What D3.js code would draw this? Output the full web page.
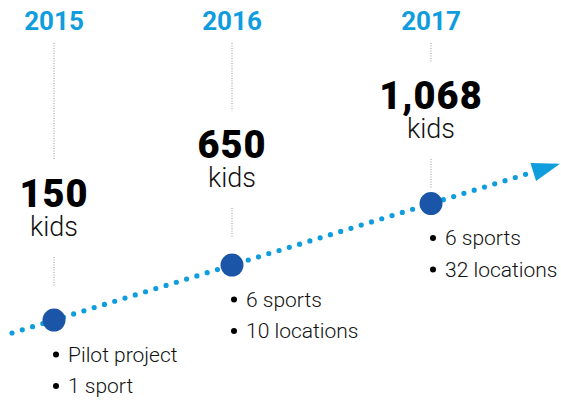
<!DOCTYPE html>
<html><head><meta charset="utf-8">
<script src="https://cdn.jsdelivr.net/npm/d3@7"></script>
<style>
html,body{margin:0;padding:0;background:#fff;}
svg{display:block;}
</style></head>
<body>
<script>
const years = [2015, 2016, 2017];
const kids = [150, 650, 1068];
const kidsLabels = ["150", "650", "1,068"];
const unitLabel = "kids";
const bullets = [["Pilot project", "1 sport"], ["6 sports", "10 locations"], ["6 sports", "32 locations"]];

const W = 561, H = 403;
const lightBlue = "#0f9ddd", darkBlue = "#1a55a7";
const svg = d3.select("body").append("svg").attr("width", W).attr("height", H);

// x position of each year along the timeline
const x = d3.scaleLinear().domain(years).range([54, 232, 431]);
// timeline: y as a function of x
const lineY = d3.scaleLinear().domain([12, 559]).range([333, 164]);
// annotation block baseline per year
const labelY = d3.scaleLinear().domain([2015, 2017]).range([207, 109]);

const font = "Roboto, 'Liberation Sans', sans-serif";

// dotted timeline
const x0 = 12, x1 = 535;
svg.append("line")
  .attr("x1", x0).attr("y1", lineY(x0))
  .attr("x2", x1).attr("y2", lineY(x1))
  .attr("stroke", lightBlue).attr("stroke-width", 5.2)
  .attr("stroke-linecap", "round").attr("stroke-dasharray", "0 10.75");

// arrow head
const tx = 560, ty = lineY(560);
const dx = 547, dy = -169, len = Math.hypot(dx, dy);
const ux = dx / len, uy = dy / len, L = 28, hw = 9.5;
const bx = tx - L * ux, by = ty - L * uy;
svg.append("path")
  .attr("d", d3.line()([[tx, ty], [bx - hw * uy, by + hw * ux], [bx + hw * uy, by - hw * ux]]) + "Z")
  .attr("fill", lightBlue);

const g = svg.selectAll("g.yr").data(years).join("g").attr("class", "yr");

// year labels
g.append("text")
  .attr("x", d => x(d)).attr("y", 30)
  .attr("text-anchor", "middle")
  .attr("font-family", font).attr("font-weight", 700).attr("font-size", 26)
  .attr("fill", lightBlue)
  .text(d => d);

// upper dotted connector
g.append("line")
  .attr("x1", d => x(d)).attr("x2", d => x(d))
  .attr("y1", 43).attr("y2", d => labelY(d) - 47)
  .attr("stroke", "#9a9a9a").attr("stroke-width", 1).attr("stroke-dasharray", "1 1.5");

// numbers
g.append("text")
  .attr("x", d => x(d)).attr("y", d => labelY(d))
  .attr("text-anchor", "middle")
  .attr("font-family", font).attr("font-weight", 900).attr("font-size", 38)
  .attr("letter-spacing", 1)
  .attr("fill", "#000")
  .text((d, i) => kidsLabels[i]);

// "kids"
g.append("text")
  .attr("x", d => x(d)).attr("y", d => labelY(d) + 28.5)
  .attr("text-anchor", "middle")
  .attr("font-family", font).attr("font-weight", 300).attr("font-size", 27)
  .attr("fill", "#111")
  .text(unitLabel);

// lower dotted connector
g.append("line")
  .attr("x1", d => x(d)).attr("x2", d => x(d))
  .attr("y1", d => labelY(d) + 50).attr("y2", d => labelY(d) + 79)
  .attr("stroke", "#9a9a9a").attr("stroke-width", 1).attr("stroke-dasharray", "1 1.5");

// milestone dots
g.append("circle")
  .attr("cx", d => x(d)).attr("cy", d => lineY(x(d)))
  .attr("r", 11.5).attr("fill", darkBlue);

// bullets
g.each(function(d, i) {
  const cx = x(d), cy = lineY(cx);
  const sel = d3.select(this);
  bullets[i].forEach((t, j) => {
    const base = cy + 41.5 + j * 31.5;
    sel.append("circle").attr("cx", cx + 2).attr("cy", base - 7).attr("r", 3).attr("fill", "#000");
    sel.append("text").attr("x", cx + 14).attr("y", base)
      .attr("font-family", font).attr("font-weight", 300).attr("font-size", 21)
      .attr("fill", "#111").text(t);
  });
});
</script>
</body></html>
